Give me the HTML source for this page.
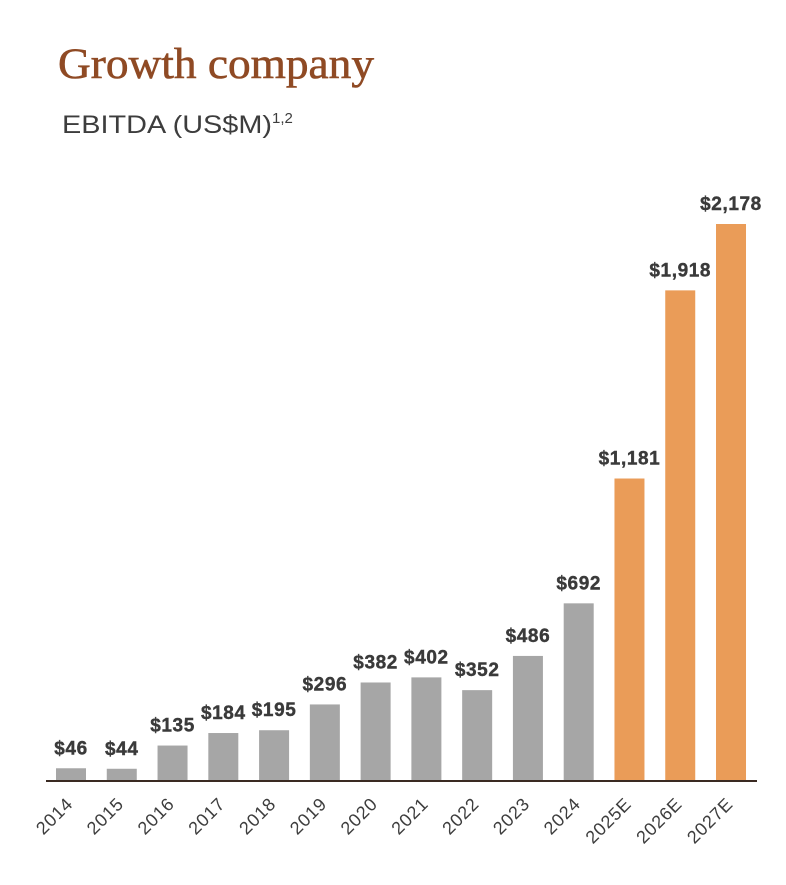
<!DOCTYPE html>
<html><head><meta charset="utf-8"><style>
body{margin:0;background:#fff;width:786px;height:880px;overflow:hidden;font-family:"Liberation Sans",sans-serif}
</style></head><body>
<svg width="786" height="880">
<text x="58" y="78" font-family="Liberation Serif,serif" font-size="43" fill="#8f4a24" stroke="#8f4a24" stroke-width="0.6" textLength="316" lengthAdjust="spacingAndGlyphs">Growth company</text>
<text x="62" y="133" font-size="25" fill="#3d3d3d"><tspan textLength="210" lengthAdjust="spacingAndGlyphs">EBITDA (US$M)</tspan><tspan font-size="15" dy="-10">1,2</tspan></text>
<g id="bars"></g>
<line x1="46" y1="781" x2="757" y2="781" stroke="#3a2a22" stroke-width="2"/>
</svg>
<script>
const categories=["2014","2015","2016","2017","2018","2019","2020","2021","2022","2023","2024","2025E","2026E","2027E"];
const values=[46,44,135,184,195,296,382,402,352,486,692,1181,1918,2178];
const labels=["$46","$44","$135","$184","$195","$296","$382","$402","$352","$486","$692","$1,181","$1,918","$2,178"];
const estimated=[false,false,false,false,false,false,false,false,false,false,false,true,true,true];
const NS="http://www.w3.org/2000/svg";
const g=document.getElementById('bars');
const base=780,maxV=2178,maxH=556;
const y=v=>base-v/maxV*maxH;
const x=i=>71+i*50.77;
const bw=30;
categories.forEach((c,i)=>{
  const r=document.createElementNS(NS,'rect');
  r.setAttribute('x',x(i)-bw/2);r.setAttribute('y',y(values[i]));
  r.setAttribute('width',bw);r.setAttribute('height',base-y(values[i]));
  r.setAttribute('fill',estimated[i]?'#ea9c58':'#a6a6a6');
  
  
  g.appendChild(r);
  const t=document.createElementNS(NS,'text');
  t.setAttribute('x',x(i));t.setAttribute('y',y(values[i])-14);
  t.setAttribute('text-anchor','middle');t.setAttribute('font-size','19');
  t.setAttribute('font-weight','bold');t.setAttribute('fill','#3a3a3a');
  t.setAttribute('letter-spacing','0.6');
  t.setAttribute('stroke','#3a3a3a');t.setAttribute('stroke-width','0.4');
  t.textContent=labels[i];
  
  
  g.appendChild(t);
  const l=document.createElementNS(NS,'text');
  const lx=x(i)+3,ly=805;
  l.setAttribute('x',lx);l.setAttribute('y',ly);
  l.setAttribute('text-anchor','end');l.setAttribute('font-size','18');
  l.setAttribute('letter-spacing','0.8');
  l.setAttribute('fill','#3d3d3d');
  l.setAttribute('transform','rotate(-45 '+lx+' '+ly+')');
  l.textContent=c;
  
  
  g.appendChild(l);
});
</script>
</body></html>
